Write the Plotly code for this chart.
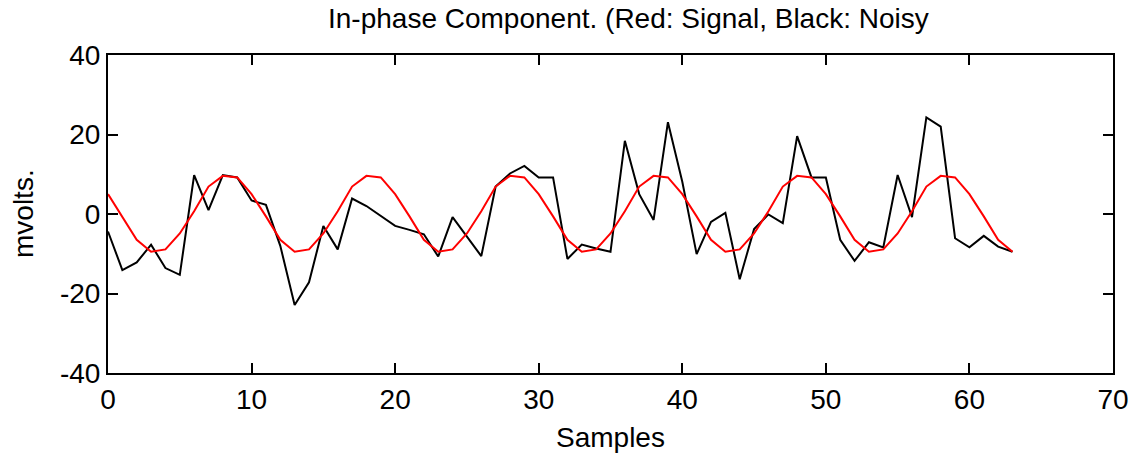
import plotly.graph_objects as go

# Sample index
samples = list(range(64))

# Clean in-phase signal (mV)
signal = [5.0, -0.6, -6.5, -9.5, -8.9, -4.9, 0.7, 6.9, 9.6, 9.2,
          5.0, -0.6, -6.5, -9.5, -8.9, -4.9, 0.7, 6.9, 9.6, 9.2,
          5.0, -0.6, -6.5, -9.5, -8.9, -4.9, 0.7, 6.9, 9.6, 9.2,
          5.0, -0.6, -6.5, -9.5, -8.9, -4.9, 0.7, 6.9, 9.6, 9.2,
          5.0, -0.6, -6.5, -9.5, -8.9, -4.9, 0.7, 6.9, 9.6, 9.2,
          5.0, -0.6, -6.5, -9.5, -8.9, -4.9, 0.7, 6.9, 9.6, 9.2,
          5.0, -0.6, -6.5, -9.5]

# Noisy in-phase signal (mV)
noisy = [-4.4, -14.1, -12.2, -7.7, -13.6, -15.3, 9.8, 1.0, 9.8, 9.2,
         3.4, 2.3, -8.0, -22.9, -17.2, -3.0, -8.9, 3.9, 2.0, -0.5,
         -3.0, -4.0, -5.1, -10.7, -0.8, -5.7, -10.6, 6.9, 10.2, 12.1,
         9.2, 9.2, -11.3, -7.7, -8.7, -9.5, 18.4, 5.0, -1.5, 23.1,
         8.1, -10.1, -2.0, 0.3, -16.4, -3.8, -0.1, -2.3, 19.6, 9.2,
         9.2, -6.5, -11.8, -7.1, -8.4, 9.8, -0.8, 24.3, 22.0, -6.1,
         -8.4, -5.5, -8.2, -9.5]

x_ticks = [0, 10, 20, 30, 40, 50, 60, 70]
x_labels = ["0", "10", "20", "30", "40", "50", "60", "70"]
y_ticks = [-40, -20, 0, 20, 40]
y_labels = ["-40", "-20", "0", "20", "40"]

FONT = "Liberation Sans, Arial, sans-serif"
SIZE = 28

fig = go.Figure()
fig.add_trace(go.Scatter(x=samples, y=noisy, mode="lines",
                         line=dict(color="black", width=2), name="Noisy"))
fig.add_trace(go.Scatter(x=samples, y=signal, mode="lines",
                         line=dict(color="#ff0000", width=2), name="Signal"))

axis_common = dict(showline=True, linecolor="black", linewidth=2,
                   mirror="ticks", ticks="inside", ticklen=10,
                   tickwidth=1.5, tickcolor="black", showgrid=False,
                   zeroline=False, automargin=False,
                   tickfont=dict(family=FONT, size=SIZE, color="black"))

fig.update_layout(
    width=1130, height=456,
    margin=dict(l=108, r=17, t=55, b=83),
    plot_bgcolor="white", paper_bgcolor="white",
    showlegend=False,
    xaxis=dict(range=[0, 70], tickvals=x_ticks, ticktext=x_labels, **axis_common),
    yaxis=dict(range=[-40, 40], tickvals=y_ticks, ticktext=y_labels, **axis_common),
    annotations=[
        dict(text="In-phase Component. (Red: Signal, Black: Noisy",
             xref="paper", yref="paper", x=0.5177, y=1, yshift=37,
             xanchor="center", yanchor="middle", showarrow=False,
             font=dict(family=FONT, size=SIZE, color="black")),
        dict(text="Samples", xref="paper", yref="paper", x=0.5, y=0,
             yshift=-64, xanchor="center", yanchor="middle", showarrow=False,
             font=dict(family=FONT, size=SIZE, color="black")),
        dict(text="mvolts.", xref="paper", yref="paper", x=0, y=0.5,
             xshift=-85, xanchor="center", yanchor="middle", showarrow=False,
             textangle=-90, font=dict(family=FONT, size=SIZE, color="black")),
    ],
)

fig.write_html("out.html")
